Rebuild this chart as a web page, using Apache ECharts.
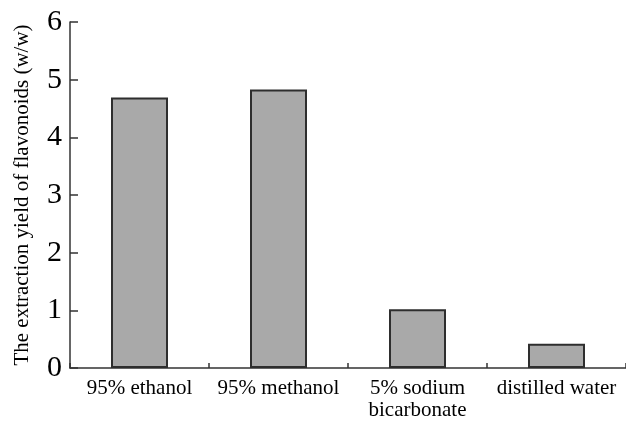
<!DOCTYPE html>
<html>
<head>
<meta charset="utf-8">
<script src="https://cdn.jsdelivr.net/npm/echarts@6/dist/echarts.min.js"></script>
<style>
  html, body { margin: 0; padding: 0; background: #fff; }
  #chart { width: 626px; height: 423px; }
</style>
</head>
<body>
<div id="chart"></div>
<script>
// Extraction solvents and flavonoid yields (w/w)
const solvents = ['95% ethanol', '95% methanol', '5% sodium\nbicarbonate', 'distilled water'];
const yields = [4.69, 4.83, 1.02, 0.42];
const yTicks = [0, 1, 2, 3, 4, 5, 6];

const serif = '"Liberation Serif", "DejaVu Serif", serif';
const chart = echarts.init(document.getElementById('chart'), null, { renderer: 'canvas' });

chart.setOption({
  animation: false,
  backgroundColor: '#fff',
  grid: { left: 70, right: 0, top: 22, bottom: 55, containLabel: false, outerBoundsMode: 'none' },
  xAxis: {
    type: 'category',
    data: solvents,
    axisLine: { lineStyle: { color: '#333', width: 1.5 } },
    axisTick: { show: true, inside: true, length: 5, lineStyle: { color: '#333', width: 1.5 } },
    axisLabel: {
      interval: 0, hideOverlap: false,
      color: '#000', fontFamily: serif, fontSize: 21, margin: 9, lineHeight: 22
    }
  },
  yAxis: {
    type: 'value',
    min: yTicks[0],
    max: yTicks[yTicks.length - 1],
    interval: 1,
    name: 'The extraction yield of flavonoids (w/w)',
    nameLocation: 'middle',
    nameGap: 37,
    nameTextStyle: { color: '#000', fontFamily: serif, fontSize: 21 },
    splitLine: { show: false },
    axisLine: { show: true, lineStyle: { color: '#333', width: 1.5 } },
    axisTick: { show: true, inside: true, length: 8, lineStyle: { color: '#333', width: 1.5 } },
    axisLabel: { color: '#000', fontFamily: serif, fontSize: 30, margin: 8 }
  },
  series: [{
    type: 'bar',
    data: yields,
    barWidth: 57,
    itemStyle: { color: '#a9a9a9', borderColor: '#2e2e2e', borderWidth: 2 }
  }]
});
</script>
</body>
</html>
